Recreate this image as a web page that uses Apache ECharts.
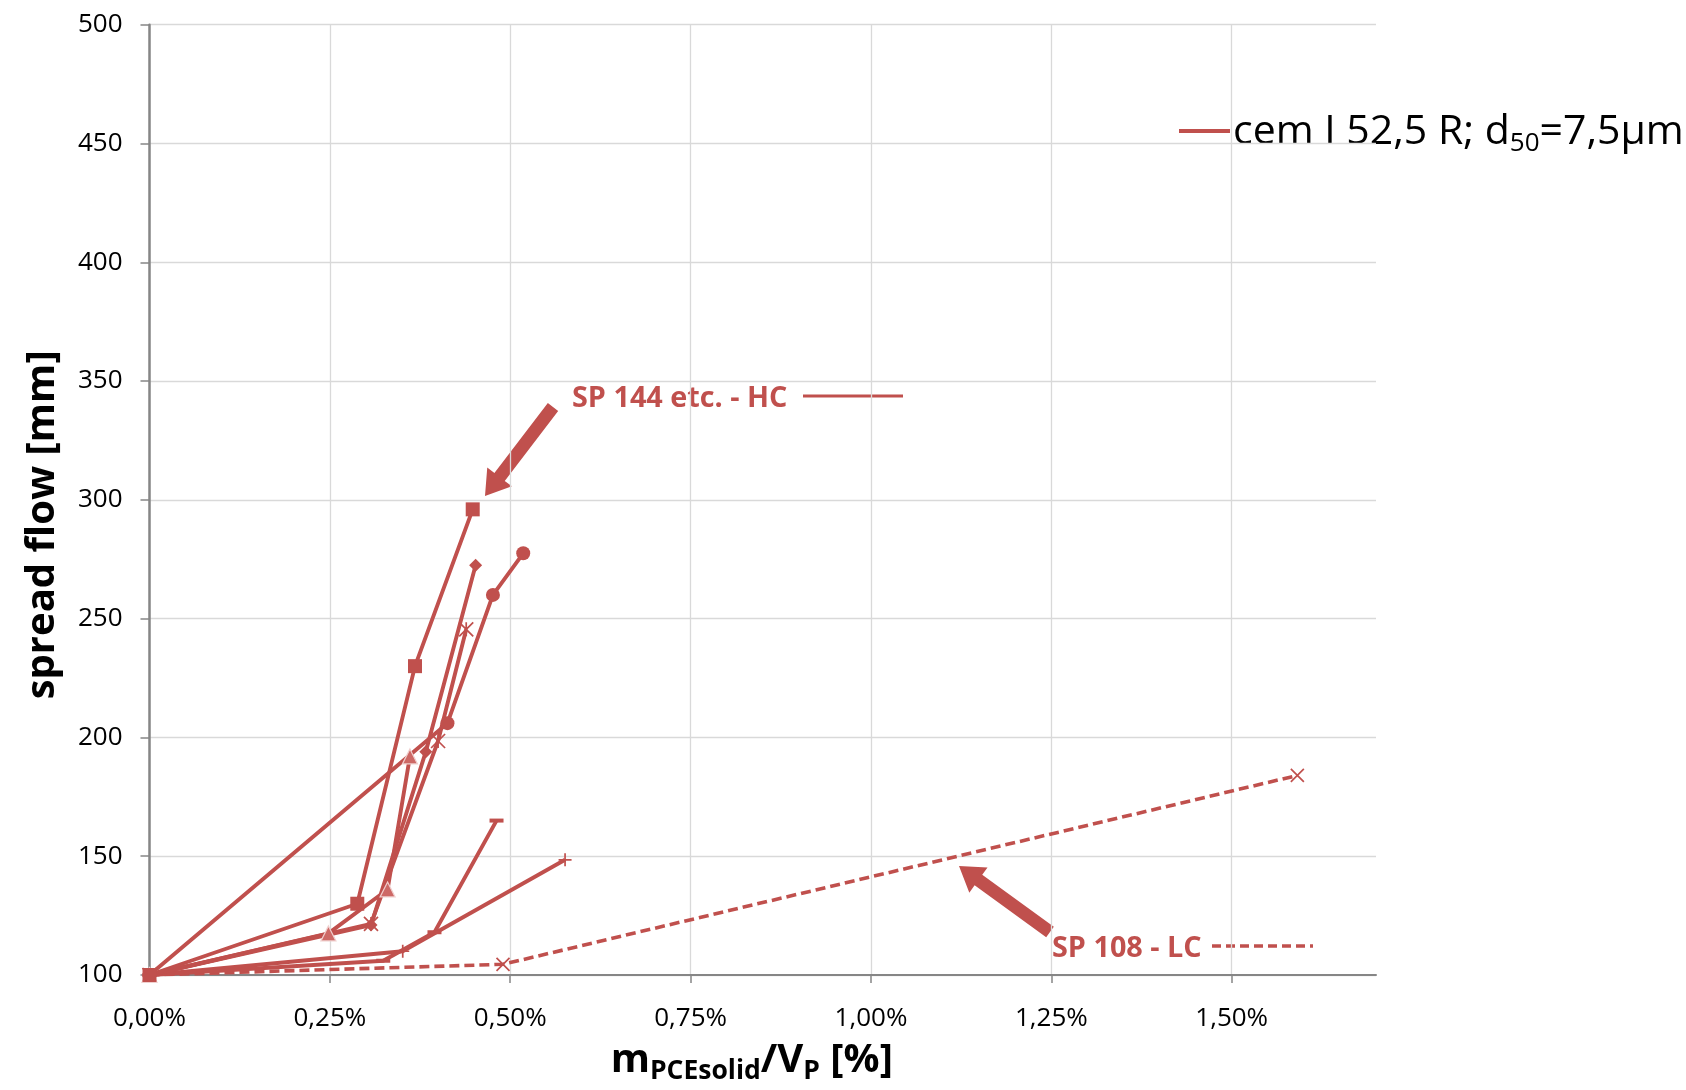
<!DOCTYPE html>
<html>
<head>
<meta charset="utf-8">
<script src="https://cdn.jsdelivr.net/npm/echarts@6/dist/echarts.min.js"></script>
<style>
  html, body { margin: 0; padding: 0; background: #fff; }
  #grafica { width: 1686px; height: 1090px; }
</style>
</head>
<body>
<div id="grafica"></div>
<script>
// Datos: [dosis PCE %, spread flow mm]
const serieCuadrado = [[0, 100], [0.288, 130], [0.368, 230], [0.448, 296]];
const serieRombo = [[0, 100], [0.307, 121], [0.383, 194], [0.452, 272.5]];
const serieTriangulo = [[0, 100], [0.248, 117.5], [0.330, 136], [0.361, 192]];
const serieEstrella = [[0, 100], [0.307, 121.5], [0.400, 198.5], [0.439, 245.5]];
const serieCirculo = [[0, 100], [0.413, 206], [0.476, 260], [0.518, 277.5]];
const serieGuion = [[0, 100], [0.324, 106], [0.395, 118], [0.481, 165]];
const serieMas = [[0, 100], [0.351, 110], [0.576, 148.5]];
const serieLC = [[0, 100], [0.490, 104.5], [1.591, 184]];

const yTicks = [100, 150, 200, 250, 300, 350, 400, 450, 500];
const xTicks = ['0,00%', '0,25%', '0,50%', '0,75%', '1,00%', '1,25%', '1,50%'];

const rojo = '#C0504D';
const chart = echarts.init(document.getElementById('grafica'));

// simbolos de Excel
const simboloX = 'path://M0 0L10 10M10 0L0 10';
const simboloEstrella = 'path://M0 0L10 10M10 0L0 10M5 0L5 10';
const simboloMas = 'path://M5 0L5 10M0 5L10 5';

function linea(datos, symbol, size, extra) {
    return Object.assign({
        type: 'line',
        data: datos,
        symbol: symbol,
        symbolSize: size,
        showAllSymbol: true,
        animation: false,
        lineStyle: { color: rojo, width: 3.9 },
        itemStyle: { color: rojo, borderColor: rojo, borderWidth: 0 },
        z: 3
    }, extra || {});
}

const trazoStyle = { color: 'rgba(0,0,0,0)', borderColor: rojo, borderWidth: 1.7 };

// flecha como poligono (cola -> punta)
function flecha(cola, punta, ancho, anchoCabeza, largoCabeza) {
    const dx = punta[0] - cola[0], dy = punta[1] - cola[1];
    const len = Math.sqrt(dx * dx + dy * dy);
    const ux = dx / len, uy = dy / len;
    const nx = -uy, ny = ux;
    const bx = punta[0] - ux * largoCabeza, by = punta[1] - uy * largoCabeza;
    const a = ancho / 2, h = anchoCabeza / 2;
    return [
        [cola[0] + nx * a, cola[1] + ny * a],
        [bx + nx * a, by + ny * a],
        [bx + nx * h, by + ny * h],
        punta,
        [bx - nx * h, by - ny * h],
        [bx - nx * a, by - ny * a],
        [cola[0] - nx * a, cola[1] - ny * a]
    ];
}

const option = {
    backgroundColor: '#fff',
    animation: false,
    grid: { left: 149.5, right: 310, top: 24.7, bottom: 113, containLabel: false },
    xAxis: {
        type: 'value',
        min: 0,
        max: 1.7,
        interval: 0.25,
        name: '{m|m}{s|PCEsolid}{m|/V}{s|P}{m| [%]}',
        nameLocation: 'middle',
        nameGap: 62,
        nameTextStyle: {
            padding: [0, 22, 0, 0],
            rich: {
                m: { fontFamily: 'Open Sans', fontWeight: 'bold', fontSize: 40, color: '#000', lineHeight: 48 },
                s: { fontFamily: 'Open Sans', fontWeight: 'bold', fontSize: 26.5, color: '#000', lineHeight: 22, verticalAlign: 'bottom' }
            }
        },
        axisLine: { lineStyle: { color: '#868686', width: 2 } },
        axisTick: { show: true, length: 8, lineStyle: { color: '#868686', width: 1.5 } },
        axisLabel: {
            fontFamily: 'Open Sans',
            fontSize: 26,
            color: '#000',
            margin: 31,
            showMaxLabel: false,
            formatter: function (v) {
                const i = Math.round(v / 0.25);
                return Math.abs(i * 0.25 - v) < 1e-6 ? (xTicks[i] || '') : '';
            }
        },
        splitLine: { show: true, showMaxLine: false, lineStyle: { color: '#D9D9D9', width: 1.3 } }
    },
    yAxis: {
        type: 'value',
        min: 100,
        max: 500,
        interval: 50,
        name: 'spread flow [mm]',
        nameLocation: 'middle',
        nameGap: 87,
        nameTextStyle: {
            fontFamily: 'Open Sans', fontWeight: 'bold', fontSize: 40, color: '#000',
            padding: [0, 50, 0, 0]
        },
        axisLine: { show: true, lineStyle: { color: '#868686', width: 2.5 } },
        axisTick: { show: true, length: 9, lineStyle: { color: '#868686', width: 1.5 } },
        axisLabel: {
            fontFamily: 'Open Sans',
            fontSize: 26,
            color: '#000',
            margin: 27,
            formatter: function (v) { return yTicks.indexOf(v) >= 0 ? String(v) : ''; }
        },
        splitLine: { show: true, lineStyle: { color: '#D9D9D9', width: 1.3 } }
    },
    series: [
        linea(serieLC, simboloX, 13, {
            lineStyle: { color: rojo, width: 3.6, type: [10, 5] },
            itemStyle: trazoStyle
        }),
        linea(serieMas, simboloMas, 13, { itemStyle: trazoStyle }),
        linea(serieGuion, 'rect', [14, 4]),
        linea(serieEstrella, simboloEstrella, 14, { itemStyle: trazoStyle }),
        linea(serieCirculo, 'circle', 14),
        linea(serieTriangulo, 'triangle', 15, {
            itemStyle: { color: '#CD6966', borderColor: '#F0CFCE', borderWidth: 1.2 }
        }),
        linea(serieRombo, 'diamond', 13),
        linea(serieCuadrado, 'rect', 14)
    ],
    graphic: [
        // leyenda
        {
            type: 'line',
            shape: { x1: 1179, y1: 131, x2: 1230, y2: 131 },
            style: { stroke: rojo, lineWidth: 4 }
        },
        {
            type: 'text',
            x: 1233,
            y: 132,
            style: {
                text: '{t|cem I 52,5 R; d}{s|50}{t|=7,5µm}',
                verticalAlign: 'middle',
                rich: {
                    t: { fontFamily: 'Open Sans', fontSize: 41, fill: '#000', lineHeight: 50 },
                    s: { fontFamily: 'Open Sans', fontSize: 26, fill: '#000', lineHeight: 24, verticalAlign: 'bottom' }
                }
            }
        },
        // anotacion HC
        {
            type: 'text',
            x: 572,
            y: 399,
            style: {
                text: 'SP 144 etc. - HC',
                fontFamily: 'Open Sans',
                fontWeight: 'bold',
                fontSize: 28.8,
                fill: rojo,
                verticalAlign: 'middle'
            }
        },
        {
            type: 'line',
            shape: { x1: 803, y1: 396, x2: 903, y2: 396 },
            style: { stroke: rojo, lineWidth: 3 }
        },
        {
            type: 'polygon',
            shape: { points: flecha([553, 407], [485, 496], 13, 31, 24) },
            style: { fill: rojo }
        },
        // anotacion LC
        {
            type: 'text',
            x: 1052,
            y: 949,
            style: {
                text: 'SP 108 - LC',
                fontFamily: 'Open Sans',
                fontWeight: 'bold',
                fontSize: 28.8,
                fill: rojo,
                verticalAlign: 'middle'
            }
        },
        {
            type: 'line',
            shape: { x1: 1212, y1: 946, x2: 1313, y2: 946 },
            style: { stroke: rojo, lineWidth: 3.5, lineDash: [9, 5] }
        },
        {
            type: 'polygon',
            shape: { points: flecha([1050, 932], [959, 866], 13, 31, 24) },
            style: { fill: rojo }
        }
    ]
};

chart.setOption(option);
</script>
</body>
</html>
